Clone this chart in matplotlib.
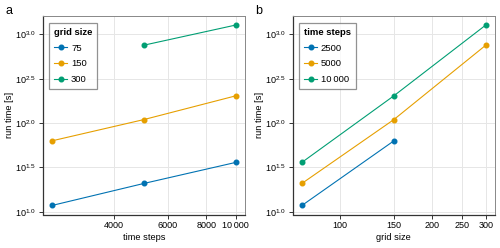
import matplotlib
matplotlib.use("Agg")
import matplotlib.pyplot as plt
from matplotlib.ticker import FixedLocator, FixedFormatter, NullLocator
import numpy as np

plt.rcParams['font.family'] = ['Liberation Sans', 'DejaVu Sans']
plt.rcParams['mathtext.fontset'] = 'custom'
plt.rcParams['mathtext.rm'] = 'Liberation Sans'
plt.rcParams['mathtext.it'] = 'Liberation Sans:italic'
plt.rcParams['mathtext.bf'] = 'Liberation Sans:bold'

# Data
time_steps = [2500, 5000, 10000]
grid_sizes = [75, 150, 300]
# run time [s], rows: grid size, columns: time steps (nan = missing)
run_75 = [11.8, 20.9, 36.1]
run_150 = [63.1, 109.6, 203.0]
run_300 = [np.nan, 755.0, 1274.0]

colors = ['#0072B2', '#E69F00', '#009E73']
runs = [run_75, run_150, run_300]
ts_labels = ['2500', '5000', '10\u2009000']

xticks_a = [4000, 6000, 8000, 10000]
xticklabels_a = ['4000', '6000', '8000', '10\u2009000']
xticks_b = [100, 150, 200, 250, 300]
xticklabels_b = ['100', '150', '200', '250', '300']
yexp = [1.0, 1.5, 2.0, 2.5, 3.0]

fig = plt.figure(figsize=(5.0, 2.48), dpi=100)
W, H = 500, 248
AX_T, AX_B = 16, 214.5
def pos(l, r, t, b):
    return [l / W, 1 - b / H, (r - l) / W, (b - t) / H]

axa = fig.add_axes(pos(42.7, 245, AX_T, AX_B))
axb = fig.add_axes(pos(292.7, 495, AX_T, AX_B))

fs = 6.5
lw = 1.1 * 0.72
ms = 4.6 * 0.72

def style(ax, xticks, xticklabels, xlabel, left):
    ax.set_xscale('log')
    ax.set_yscale('log')
    ax.xaxis.set_major_locator(FixedLocator(xticks))
    ax.xaxis.set_major_formatter(FixedFormatter(xticklabels))
    ax.xaxis.set_minor_locator(NullLocator())
    yt = [10 ** e for e in yexp]
    ax.yaxis.set_major_locator(FixedLocator(yt))
    ax.yaxis.set_major_formatter(FixedFormatter([r'$\mathregular{10^{%.1f}}$' % e for e in yexp]))
    ax.yaxis.set_minor_locator(NullLocator())
    ax.grid(True, color='#e6e6e6', linewidth=0.7)
    ax.set_axisbelow(True)
    ax.tick_params(length=3, width=0.7, labelsize=fs, color='#333333', pad=2)
    for s in ['left', 'bottom']:
        ax.spines[s].set_color('#333333')
        ax.spines[s].set_linewidth(0.9)
    for s in ['top', 'right']:
        ax.spines[s].set_color('#888888')
        ax.spines[s].set_linewidth(0.7)
    ax.set_xlabel(xlabel, fontsize=fs * 1.03, va='center')
    ax.set_ylabel('run time [s]', fontsize=fs * 1.03, va='center')
    h = AX_B - AX_T
    w = 202.3
    ax.xaxis.set_label_coords(0.5, -(238 - AX_B) / h)
    ax.yaxis.set_label_coords(-(42.7 - 9.5) / w, 0.5)
    ly0, ly1 = np.log10(10 ** 1.072), np.log10(1274.0)
    pad = 0.05 * (ly1 - ly0)
    ax.set_ylim(10 ** (ly0 - pad), 10 ** (ly1 + pad))

# Panel a: x = time steps, series = grid sizes
for g, r, c in zip(grid_sizes, runs, colors):
    axa.plot(time_steps, r, '-o', color=c, lw=lw, ms=ms, label=str(g))
lx0, lx1 = np.log10(time_steps[0]), np.log10(time_steps[-1])
p = 0.05 * (lx1 - lx0)
axa.set_xlim(10 ** (lx0 - p), 10 ** (lx1 + p))
style(axa, xticks_a, xticklabels_a, 'time steps', 0)

# Panel b: x = grid sizes, series = time steps
arr = np.array(runs)
for j, (lab, c) in enumerate(zip(ts_labels, colors)):
    axb.plot(grid_sizes, arr[:, j], '-o', color=c, lw=lw, ms=ms, label=lab)
lx0, lx1 = np.log10(grid_sizes[0]), np.log10(grid_sizes[-1])
p = 0.05 * (lx1 - lx0)
axb.set_xlim(10 ** (lx0 - p), 10 ** (lx1 + p))
style(axb, xticks_b, xticklabels_b, 'grid size', 250)

for ax, title in [(axa, 'grid size'), (axb, 'time steps')]:
    leg = ax.legend(loc='upper left', title=title, fontsize=fs * 1.05,
                    title_fontproperties={'weight': 'bold', 'size': fs * 1.05},
                    frameon=True, fancybox=False, handlelength=1.4,
                    handletextpad=0.4, borderpad=0.5, labelspacing=0.72,
                    bbox_to_anchor=(0.032, 0.965), borderaxespad=0)
    leg._legend_box.align = 'left'
    leg.get_frame().set_edgecolor('#777777')
    leg.get_frame().set_linewidth(0.9)

fig.text(5 / W, 1 - 11 / H, 'a', fontsize=9, ha='left', va='center')
fig.text(255 / W, 1 - 11 / H, 'b', fontsize=9, ha='left', va='center')

fig.savefig('out.png', dpi=100)
